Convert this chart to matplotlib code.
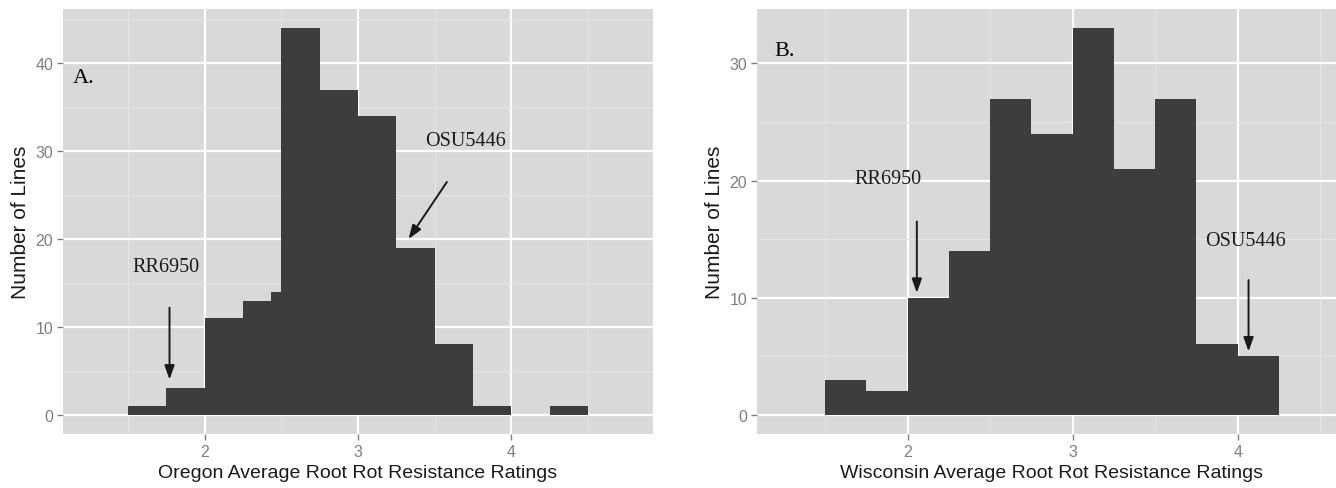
import numpy as np
import matplotlib.pyplot as plt
from matplotlib.ticker import MultipleLocator

# Oregon histogram (bin edges and counts)
or_edges = [1.5, 1.75, 2.0, 2.25, 2.435, 2.5, 2.75, 3.0, 3.25, 3.5, 3.75, 4.0, 4.25, 4.5]
or_counts = [1, 3, 11, 13, 14, 44, 37, 34, 19, 8, 1, 0, 1]

# Wisconsin histogram
wi_edges = [1.5, 1.75, 2.0, 2.25, 2.5, 2.75, 3.0, 3.25, 3.5, 3.75, 4.0, 4.25]
wi_counts = [3, 2, 10, 14, 27, 24, 33, 21, 27, 6, 5]

# annotations: label, text pos, arrow tail, arrow tip
or_notes = [("RR6950", (1.75, 16.9), (1.77, 12.2), (1.77, 4.0)),
            ("OSU5446", (3.70, 31.2), (3.58, 26.5), (3.33, 20.0))]
wi_notes = [("RR6950", (1.88, 20.2), (2.056, 16.5), (2.056, 10.4)),
            ("OSU5446", (4.05, 14.9), (4.066, 11.5), (4.066, 5.4))]

BG = '#d9d9db'
BAR = '#3d3d3f'
SANS = ['Liberation Sans', 'DejaVu Sans']
SERIF = ['Liberation Serif', 'DejaVu Serif']

fig = plt.figure(figsize=(13.36, 4.89), dpi=100)
W, H = 1336, 489


def panel(rect, edges, counts, xlim, ymax, ymajor, letter, letter_pos, notes, xlabel):
    x0, y0, x1, y1 = rect
    ax = fig.add_axes([x0 / W, 1 - y1 / H, (x1 - x0) / W, (y1 - y0) / H])
    ax.set_facecolor(BG)
    for s in ax.spines.values():
        s.set_visible(False)
    edges = np.array(edges)
    ax.bar(edges[:-1], counts, width=np.diff(edges), align='edge', color=BAR,
           edgecolor='none', zorder=3)
    ax.set_xlim(*xlim)
    ax.set_ylim(-ymax * 0.05, ymax * 1.05)
    ax.xaxis.set_major_locator(MultipleLocator(1))
    ax.xaxis.set_minor_locator(MultipleLocator(0.5))
    ax.yaxis.set_major_locator(MultipleLocator(ymajor))
    ax.yaxis.set_minor_locator(MultipleLocator(ymajor / 2))
    ax.grid(which='major', color='white', lw=1.6, zorder=1)
    ax.grid(which='minor', color='#e6e6e8', lw=0.8, zorder=1)
    ax.tick_params(which='major', length=4, width=1, color='#7f7f7f',
                   labelcolor='#7f7f7f', labelsize=11.5, pad=3)
    ax.tick_params(which='minor', length=0)
    for lab in ax.get_xticklabels() + ax.get_yticklabels():
        lab.set_family(SANS)
    ax.set_xlabel(xlabel, family=SANS, fontsize=14, color='#1a1a1a', labelpad=4)
    ax.set_ylabel('Number of Lines', family=SANS, fontsize=15, color='#1a1a1a',
                  labelpad=4)
    ax.text(letter_pos[0], letter_pos[1], letter, family=SERIF, fontsize=16,
            va='center', ha='left', zorder=4)
    for txt, tpos, tail, tip in notes:
        ax.text(tpos[0], tpos[1], txt, family=SERIF, fontsize=14.5, ha='center',
                va='center', zorder=4, color='#1a1a1a')
        ax.annotate('', xy=tip, xytext=tail, zorder=4,
                    arrowprops=dict(arrowstyle='-|>,head_width=0.25,head_length=0.7',
                                    color='#1a1a1a', lw=1.4,
                                    mutation_scale=12, shrinkA=0, shrinkB=0))
    return ax


panel((63, 10, 653, 435), or_edges, or_counts, (1.075, 4.925), 44, 10,
      'A.', (1.14, 38.4), or_notes, 'Oregon Average Root Rot Resistance Ratings')
panel((757, 10, 1347, 435), wi_edges, wi_counts, (1.0875, 4.6625), 33, 10,
      'B.', (1.19, 31.1), wi_notes, 'Wisconsin Average Root Rot Resistance Ratings')

fig.savefig('out.png', dpi=100)
